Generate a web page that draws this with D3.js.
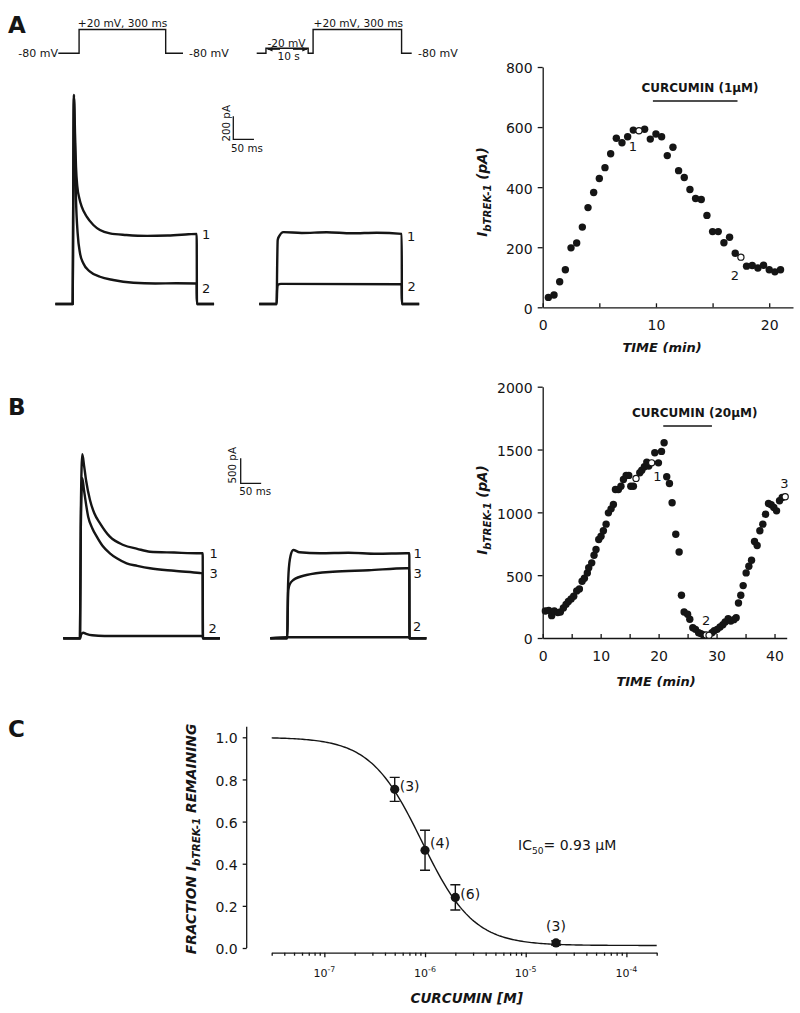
<!DOCTYPE html>
<html><head><meta charset="utf-8">
<script src="https://cdn.jsdelivr.net/npm/d3@7/dist/d3.min.js"></script>
<style>
html,body{margin:0;padding:0;background:#fff}
svg{display:block}
</style></head>
<body>
<svg id="fig" width="800" height="1013" xmlns="http://www.w3.org/2000/svg"></svg>
<script>
// ================= DATA =================
// Panel A time course (min, pA)
const timeA = [0.5,1.0,1.5,2.0,2.5,3.0,3.5,4.0,4.5,5.0,5.5,6.0,6.5,7.0,7.5,8.0,
  9.0,9.5,10.0,10.5,11.0,11.5,12.0,12.5,13.0,13.5,14.0,14.5,15.0,15.5,16.0,16.5,17.0,
  18.0,18.5,19.0,19.5,20.0,20.5,21.0];
const currentA = [33,41,85,125,198,214,267,332,382,429,465,511,563,548,568,590,
  593,560,577,568,505,533,455,432,392,362,359,306,252,252,215,233,180,
  137,139,131,140,125,118,125];
const timeAOpen = [8.5,17.5];
const currentAOpen = [588,167];
const drugA = [9.73,17.2];

// Panel B time course (min, pA)
const timeB = [0.46,1.04,1.55,2.0,2.6,3.05,3.57,4.03,4.43,4.9,5.35,5.87,6.33,6.8,7.2,7.7,7.94,
  8.46,8.86,9.2,9.67,10.07,10.47,10.94,11.34,11.8,12.2,12.55,13.06,13.5,13.93,14.4,14.85,15.2,15.65,
  16.75,17.1,17.55,17.96,18.3,19.34,19.97,20.5,20.95,
  21.4,21.87,22.33,22.96,23.54,23.94,24.4,25.0,25.38,25.9,26.36,26.9,27.3,27.74,
  29.2,29.6,30.1,30.6,31.08,31.48,32.0,32.46,32.98,33.38,
  33.78,34.18,34.59,35.1,35.57,36.03,36.55,37.0,37.47,37.98,38.45,38.96,39.42,39.88,40.35,40.86,41.32];
const currentB = [215,220,178,215,202,207,239,268,290,311,332,375,390,452,475,518,560,
  598,659,704,784,810,853,906,996,1028,1062,1182,1182,1208,1262,1294,1294,1208,1208,
  1315,1336,1363,1400,1368,1474,1394,1485,1554,
  1283,1230,1076,826,685,340,207,189,149,82,69,42,35,24,
  42,58,69,88,106,127,154,135,146,162,
  279,340,417,518,571,619,768,736,853,906,985,1070,1060,1039,1012,1092,1118];
const timeBOpen = [16.1,18.8,28.2,28.7,41.84];
const currentBOpen = [1270,1394,24,21,1124];
const drugB = [20.8,29.2];

// Current traces (ms from step onset, pA) - key points
const trA1L_t = [-42,0,1,2,3,4.2,5.6,8,11.2,16,21.8,33.9,50,66,90,130,180,230,280,300,300.5,342];
const trA1L_i = [0,0,700,1500,1817,1700,1484,1194,1020,920,846,759,687,643,614,600,592,596,606,610,0,0];
const trA2L_t = [-42,0,1,2,3,4.2,5.6,8,12,17.7,25.6,41.9,66,98,147,200,250,300,300.5,342];
const trA2L_i = [0,0,700,1500,1817,1600,1300,904,614,441,354,281,237,209,185,178,180,178,0,0];
const trA1R_t = [-42,0,1,2.4,6,16,60,120,180,240,300,300.5,342];
const trA1R_i = [0,0,300,557,590,625,618,624,615,620,610,0,0];
const trA2R_t = [-42,0,1,2.4,10,300,300.5,342];
const trA2R_i = [0,0,120,165,175,172,0,0];

const trB1L_t = [-41,0,2,5.6,10,15,24.4,35,49,73,106,140,171,230,293,300,300.5,342];
const trB1L_i = [0,0,2500,3680,3450,3150,2766,2500,2300,2032,1866,1790,1732,1715,1700,1700,0,0];
const trB3L_t = [-41,0,2,5.6,10,20,30,41,55,73,90,114,140,171,230,293,300,300.5,342];
const trB3L_i = [0,0,2200,3200,2950,2432,2200,2032,1850,1700,1600,1500,1450,1400,1350,1306,1300,0,0];
const trB2L_t = [-41,0,3,8,15,30,60,300,300.5,342];
const trB2L_i = [0,0,80,112,90,60,46,46,0,0];
const trB1R_t = [-42,0,1,3,8,14.7,30,80,150,220,292,300,300.5,342];
const trB1R_i = [0,0,700,1300,1650,1766,1720,1700,1710,1690,1700,1700,0,0];
const trB3R_t = [-42,0,1,2.4,6,14.7,47,112,200,292,300,300.5,342];
const trB3R_i = [0,0,500,966,1080,1166,1266,1332,1360,1400,1400,0,0];
const trB2R_t = [-42,0,300,300.5,342];
const trB2R_i = [0,20,20,0,0];

// Voltage protocols (schematic time units, mV)
const protoL_t = [0,72,72,372,372,432];
const protoL_v = [-80,-80,20,20,-80,-80];
const protoR_t = [0,32,32,178,178,195,195,501,501,536];
const protoR_v = [-80,-80,-20,-20,-80,-80,20,20,-80,-80];

// Panel C concentration-response
const concC = [5e-7,1e-6,2e-6,2e-5];
const fracC = [0.753,0.464,0.24,0.024];
const errC = [0.057,0.095,0.06,0.01];
const nLabelC = ["(3)","(4)","(6)","(3)"];
const IC50 = 0.93e-6, HILL = 1.7, BOTTOM = 0.012;
const xTicksC = [1e-7,1e-6,1e-5,1e-4];
const xTickExpC = ["-7","-6","-5","-4"];
const yTicksC = [0,0.2,0.4,0.6,0.8,1.0];

// ================= DRAW =================
const FONT = '"DejaVu Sans", "Liberation Sans", Arial, sans-serif';
const INK = "#151515";
const svg = d3.select("#fig");
svg.append("rect").attr("width",800).attr("height",1013).attr("fill","#fff");

function text(g, x, y, parts, size, o = {}) {
  const t = g.append("text").attr("x", x).attr("y", y)
    .attr("font-family", FONT).attr("font-size", size).attr("fill", INK)
    .attr("text-anchor", o.anchor || "start")
    .attr("font-weight", o.weight || "normal")
    .attr("font-style", o.style || "normal");
  if (o.rotate) t.attr("transform", `rotate(${o.rotate},${x},${y})`);
  if (typeof parts === "string") parts = [{t: parts}];
  let shift = 0;
  parts.forEach(p => {
    const target = p.sub ? size * 0.3 : p.sup ? -size * 0.42 : 0;
    const ts = t.append("tspan").text(p.t).attr("font-size", (p.sub || p.sup) ? size * (p.scale || 0.72) : size);
    if (target !== shift) { ts.attr("dy", target - shift); shift = target; }
  });
  return t;
}

function styleAxis(a, fs) {
  a.selectAll("path,line").attr("stroke", INK).attr("stroke-width", 1.3);
  a.selectAll("text").attr("font-family", FONT).attr("font-size", fs).attr("fill", INK);
  a.attr("font-family", null).attr("font-size", null);
}

// ---------- panel letters ----------
text(svg, 8, 33.3, "A", 23, {weight: "bold"});
text(svg, 8, 415, "B", 23, {weight: "bold"});
text(svg, 8, 736.7, "C", 23, {weight: "bold"});

// ---------- voltage protocols ----------
const vY = d3.scaleLinear().domain([-80,-20,20]).range([53.3,48.3,29.5]);
const pxL = d3.scaleLinear().domain([0,432]).range([58.3,183]);
const pxR = d3.scaleLinear().domain([0,536]).range([256.7,411.7]);
function proto(ts, vs, sx) {
  svg.append("path").datum(ts.map((t,i) => [t, vs[i]]))
    .attr("d", d3.line().x(d => sx(d[0])).y(d => vY(d[1])))
    .attr("fill","none").attr("stroke",INK).attr("stroke-width",1.4);
}
proto(protoL_t, protoL_v, pxL);
proto(protoR_t, protoR_v, pxR);
text(svg, 58, 57, "-80 mV", 11, {anchor: "end"});
text(svg, 189, 57, "-80 mV", 11);
text(svg, 122.5, 26.5, "+20 mV, 300 ms", 10.6, {anchor: "middle"});
text(svg, 358.3, 26.7, "+20 mV, 300 ms", 10.6, {anchor: "middle"});
text(svg, 418, 57, "-80 mV", 11);
text(svg, 286.5, 47.3, "-20 mV", 10.6, {anchor: "middle"});
text(svg, 288.7, 60, "10 s", 10.6, {anchor: "middle"});
// arrows
function arrow(x1, x2, y) {
  svg.append("line").attr("x1",x1).attr("x2",x2).attr("y1",y).attr("y2",y).attr("stroke",INK).attr("stroke-width",1.1);
  const d = x2 > x1 ? -1 : 1;
  svg.append("path").attr("d",`M${x2},${y}L${x2+d*5},${y-2.2}L${x2+d*5},${y+2.2}Z`).attr("fill",INK);
}
arrow(280, 267.5, 49.3);
arrow(293, 307.3, 49.3);

// ---------- current traces ----------
function traceSet(sxRangeL, sxRangeR, y0, pxPerPA, traces) {
  const y = d3.scaleLinear().domain([0,1000]).range([y0, y0 - pxPerPA*1000]);
  const xl = d3.scaleLinear().domain([0,300]).range(sxRangeL);
  const xr = d3.scaleLinear().domain([0,300]).range(sxRangeR);
  traces.forEach(tr => {
    const sx = tr.side === "L" ? xl : xr;
    svg.append("path").datum(tr.t.map((t,i) => [t, tr.i[i]]))
      .attr("d", d3.line().x(d => sx(d[0])).y(d => y(d[1])).curve(d3.curveMonotoneX))
      .attr("fill","none").attr("stroke",INK).attr("stroke-width",2.4).attr("stroke-linejoin","round");
  });
  return {xl, xr, y};
}
const sA = traceSet([72.7,196.7],[276.7,401.7],304,0.115,[
  {side:"L", t:trA1L_t, i:trA1L_i},{side:"L", t:trA2L_t, i:trA2L_i},
  {side:"R", t:trA1R_t, i:trA1R_i},{side:"R", t:trA2R_t, i:trA2R_i}]);
const sB = traceSet([80,202.7],[287.3,409.3],638.3,0.05,[
  {side:"L", t:trB1L_t, i:trB1L_i},{side:"L", t:trB3L_t, i:trB3L_i},{side:"L", t:trB2L_t, i:trB2L_i},
  {side:"R", t:trB1R_t, i:trB1R_i},{side:"R", t:trB3R_t, i:trB3R_i},{side:"R", t:trB2R_t, i:trB2R_i}]);

// scale bars
function scaleBar(x0, yb, s, pA, ms) {
  const h = s.y(0) - s.y(pA);
  const w = s.xl(ms) - s.xl(0);
  svg.append("path").attr("d", `M${x0},${yb-h}V${yb}H${x0+w}`)
    .attr("fill","none").attr("stroke",INK).attr("stroke-width",1.3);
}
scaleBar(233.3, 139.3, sA, 200, 50);
text(svg, 230, 123.3, "200 pA", 10.3, {anchor:"middle", rotate:-90});
text(svg, 231, 152.3, "50 ms", 10.3);
scaleBar(240.7, 483.3, sB, 500, 50);
text(svg, 236.5, 465.3, "500 pA", 10.3, {anchor:"middle", rotate:-90});
text(svg, 239.3, 495, "50 ms", 10.3);

// trace labels
[[202,239,"1"],[202,293,"2"],[407,241,"1"],[407.5,291,"2"],
 [209.5,558,"1"],[209.5,578,"3"],[208.5,633,"2"],[413.5,558,"1"],[413.5,578,"3"],[413,631,"2"]]
 .forEach(d => text(svg, d[0], d[1], d[2], 13));

// ---------- time-course scatter panels ----------
function timeCourse(o) {
  const g = svg.append("g");
  const x = d3.scaleLinear().domain(o.xDomain).range(o.xRange);
  const y = d3.scaleLinear().domain(o.yDomain).range(o.yRange);
  const xa = g.append("g").attr("transform",`translate(0,${o.yRange[0]})`)
    .call(d3.axisBottom(x).tickValues(o.xTicks).tickFormat(d => o.xLabels.includes(d) ? String(d) : "")
      .tickSizeInner(-4).tickSizeOuter(0).tickPadding(13));
  styleAxis(xa, 14);
  const ya = g.append("g").attr("transform",`translate(${o.xRange[0]},0)`)
    .call(d3.axisLeft(y).tickValues(o.yTicks).tickFormat(d => String(d)).tickSizeInner(5).tickSizeOuter(0).tickPadding(5));
  styleAxis(ya, 14);
  ya.selectAll("text").attr("dy","0.42em");
  g.selectAll("circle.f").data(o.t.map((t,i)=>[t,o.v[i]])).join("circle")
    .attr("cx", d => x(d[0])).attr("cy", d => y(d[1])).attr("r", 3.7).attr("fill", INK);
  g.selectAll("circle.o").data(o.to.map((t,i)=>[t,o.vo[i]])).join("circle")
    .attr("cx", d => x(d[0])).attr("cy", d => y(d[1])).attr("r", 3.1)
    .attr("fill", "#fff").attr("stroke", INK).attr("stroke-width", 1.2);
  // drug bar
  g.append("line").attr("x1", x(o.drug[0])).attr("x2", x(o.drug[1]))
    .attr("y1", o.drugY).attr("y2", o.drugY).attr("stroke", INK).attr("stroke-width", 1.5);
  text(g, o.drugLabelX, o.drugY - 9, [{t: o.drugText}], 12, {anchor: "middle", weight: "bold"});
  o.labels.forEach(l => text(g, x(l[0]), y(l[1]) + 4.5, l[2], 13, {anchor: "middle"}));
  text(g, o.xTitleX, o.xTitleY, "TIME (min)", 13, {anchor: "middle", weight: "bold", style: "italic"});
  text(g, 487, o.yTitleY, [{t:"I"},{t:"bTREK-1", sub:true, scale:0.76},{t:" (pA)"}], 13.5,
       {anchor: "middle", weight: "bold", style: "italic", rotate: -90});
}
timeCourse({xDomain:[0,22.1], xRange:[542.7,793], yDomain:[0,800], yRange:[307.3,67],
  xTicks:[0,5,10,15,20], xLabels:[0,10,20], yTicks:[0,200,400,600,800],
  t:timeA, v:currentA, to:timeAOpen, vo:currentAOpen,
  drug:drugA, drugY:101, drugLabelX:700, drugText:"CURCUMIN (1\u03BCM)",
  labels:[[7.96,535,"1"],[16.96,106,"2"]], xTitleX:662, xTitleY:352, yTitleY:192});
timeCourse({xDomain:[0,42.1], xRange:[542.7,786.7], yDomain:[0,2000], yRange:[638,386.7],
  xTicks:[0,5,10,15,20,25,30,35,40], xLabels:[0,10,20,30,40], yTicks:[0,500,1000,1500,2000],
  t:timeB, v:currentB, to:timeBOpen, vo:currentBOpen,
  drug:drugB, drugY:426, drugLabelX:694.7, drugText:"CURCUMIN (20\u03BCM)",
  labels:[[19.8,1283,"1"],[28.2,141,"2"],[41.7,1233,"3"]], xTitleX:656, xTitleY:686, yTitleY:510});

// ---------- panel C ----------
(function(){
  const g = svg.append("g");
  const x = d3.scaleLog().domain([3e-8, 2e-4]).range([271.7, 656.7]);
  const y = d3.scaleLinear().domain([0, 1]).range([948, 737.3]);
  const ya = g.append("g").attr("transform","translate(246.7,0)")
    .call(d3.axisLeft(y).tickValues(yTicksC).tickFormat(d3.format(".1f")).tickSizeInner(4).tickSizeOuter(0).tickPadding(5));
  styleAxis(ya, 14);
  ya.selectAll("text").attr("dy","0.4em");
  ya.select("path.domain").attr("d","M0,948V726.7");
  const minor = [];
  for (let e = -8; e <= -4; e++) for (let m = 1; m <= 9; m++) {
    const v = m * Math.pow(10, e);
    if (v >= 3e-8 * 0.999 && v <= 2e-4 * 1.001) minor.push(v);
  }
  const xa = g.append("g").attr("transform","translate(0,952.7)")
    .call(d3.axisBottom(x).tickValues(minor).tickFormat("").tickSizeInner(3).tickSizeOuter(0));
  styleAxis(xa, 11);
  xa.selectAll(".tick line").attr("y2", d => xTicksC.some(t => Math.abs(t - d) / t < 1e-6) ? 4.5 : 3);
  xTicksC.forEach((t, i) => text(g, x(t), 976.7, [{t:"10"},{t:xTickExpC[i], sup:true, scale:0.72}], 11, {anchor:"middle"}));
  const hill = c => BOTTOM + (1 - BOTTOM) / (1 + Math.pow(c / IC50, HILL));
  const xs = d3.range(0, 201).map(k => Math.pow(10, Math.log10(3e-8) + k * (Math.log10(2e-4) - Math.log10(3e-8)) / 200));
  g.append("path").datum(xs).attr("d", d3.line().x(d => x(d)).y(d => y(hill(d))))
    .attr("fill","none").attr("stroke",INK).attr("stroke-width",1.4);
  concC.forEach((c, i) => {
    const cx = x(c), y1 = y(fracC[i] + errC[i]), y2 = y(fracC[i] - errC[i]);
    g.append("path").attr("d", `M${cx},${y1}V${y2}M${cx-5},${y1}H${cx+5}M${cx-5},${y2}H${cx+5}`)
      .attr("stroke", INK).attr("stroke-width", 1.4).attr("fill","none");
    g.append("circle").attr("cx", cx).attr("cy", y(fracC[i])).attr("r", 4.6).attr("fill", INK);
  });
  const lblOff = [[5,1.5,"start"],[5,-2,"start"],[5,2,"start"],[0,-12,"middle"]];
  concC.forEach((c, i) => text(g, x(c) + lblOff[i][0], y(fracC[i]) + lblOff[i][1], nLabelC[i], 14, {anchor: lblOff[i][2]}));
  text(g, 518, 850, [{t:"IC"},{t:"50", sub:true, scale:0.65},{t:"= 0.93 \u03BCM"}], 14);
  text(g, 466.7, 1003, "CURCUMIN [M]", 13.5, {anchor:"middle", weight:"bold", style:"italic"});
  text(g, 196, 839, [{t:"FRACTION  I"},{t:"bTREK-1", sub:true, scale:0.76},{t:" REMAINING"}], 13.8,
       {anchor:"middle", weight:"bold", style:"italic", rotate:-90});
})();
</script>
</body></html>
